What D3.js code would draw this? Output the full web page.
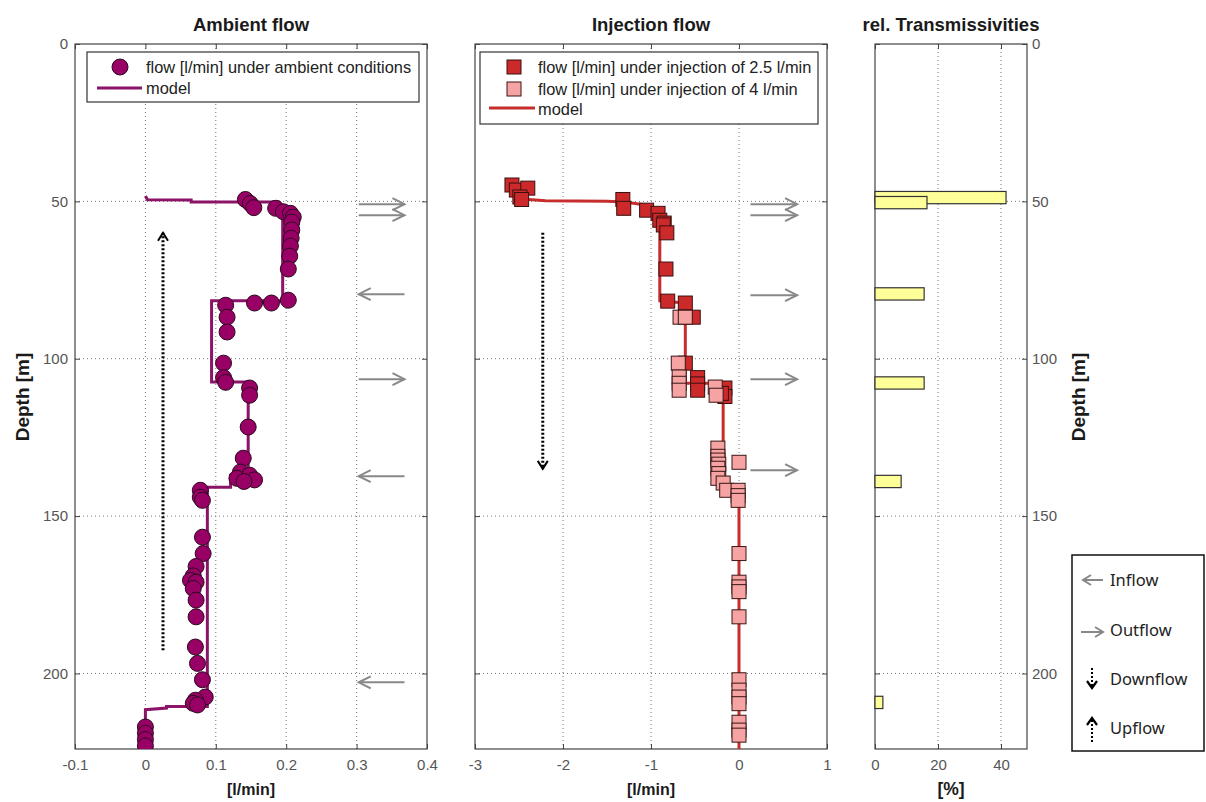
<!DOCTYPE html>
<html><head><meta charset="utf-8">
<script src="https://cdn.jsdelivr.net/npm/d3@7"></script>
<style>
body{margin:0;background:#fff;}
svg{display:block;font-family:"Liberation Sans",Arial,sans-serif;}
</style></head><body>
<svg id="chart" width="1206" height="802"></svg>
<script>
// [depth m, flow l/min]
const ambientPts = [[49.4,0.142],[50.7,0.149],[52.0,0.154],[52.2,0.185],[53.3,0.196],[53.8,0.206],[55.0,0.210],
  [56.6,0.208],[59.1,0.208],[61.7,0.207],[64.2,0.206],[67.4,0.205],[71.5,0.203],[81.4,0.203],[82.3,0.179],
  [82.3,0.155],[83.0,0.114],[86.8,0.116],[91.5,0.116],[101.4,0.111],[106.0,0.111],[107.5,0.114],[109.3,0.148],
  [111.6,0.148],[121.7,0.146],[131.6,0.139],[136.0,0.135],[137.0,0.148],[138.0,0.130],[138.5,0.155],[139.0,0.140],
  [141.8,0.078],[144.0,0.078],[145.0,0.081],[156.7,0.081],[161.9,0.082],[166.0,0.072],[169.0,0.068],[170.4,0.064],
  [171.0,0.072],[173.0,0.068],[176.7,0.072],[182.0,0.072],[191.6,0.071],[196.8,0.074],[202.0,0.081],[207.5,0.085],
  [208.5,0.071],[209.5,0.068],[210.0,0.074],[217,0],[219,0],[221,0],[223,0]];
const ambientModel = [[48.3,0],[49.5,0.003],[49.6,0.065],[50.2,0.065],[50.2,0.19],[51.8,0.195],[81.6,0.195],
  [81.6,0.094],[107.4,0.094],[107.4,0.146],[136.4,0.146],[137,0.121],[140.8,0.121],[140.8,0.088],[210.5,0.088],
  [210.5,0.03],[211,0.03],[211.5,0],[224,0]];
const inj25Pts = [[44.8,-2.58],[46.4,-2.53],[45.8,-2.40],[48.6,-2.49],[49.4,-2.47],[49.4,-1.32],[52.2,-1.31],
  [52.8,-1.05],[53.8,-0.92],[56.0,-0.90],[56.9,-0.85],[57.5,-0.86],[60.0,-0.82],[71.5,-0.83],[81.7,-0.81],
  [82.3,-0.61],[86.8,-0.52],[101.4,-0.61],[106.0,-0.47],[108.0,-0.47],[110.0,-0.47],[109.3,-0.16],[112.0,-0.16],[111.0,-0.2]];
const inj4Pts = [[86.8,-0.67],[86.8,-0.61],[101.4,-0.69],[105.8,-0.68],[107.8,-0.68],[110.0,-0.68],[109.0,-0.27],
  [111.6,-0.26],[128.4,-0.24],[131.0,-0.24],[132.2,-0.24],[133.5,-0.23],[134.8,-0.24],[136.5,-0.23],[138.0,-0.24],
  [132.9,0.0],[139.5,-0.18],[141.8,-0.14],[141.8,-0.01],[143.5,-0.01],[145.0,-0.01],[161.9,0],[171,0],[172.5,0],
  [174,0],[182,0],[202,0],[205.3,0],[207.5,0],[209.6,0],[215.5,0],[218,0],[219.6,0]];
const injModel = [[49.2,-2.5],[49.8,-2.2],[50.0,-1.5],[50.2,-1.3],[51.0,-1.1],[52.5,-0.95],[53.5,-0.9],[81.6,-0.9],
  [82.3,-0.61],[107.8,-0.61],[107.8,-0.18],[142.7,-0.18],[143.2,0],[224,0]];
const transDepth = [48.8, 50.4, 79.4, 107.7, 139, 209.2];
const transPct = [41.6, 16.5, 15.6, 15.6, 8.3, 2.5];

const depthTicks = [0, 50, 100, 150, 200];
const ambientTicks = [-0.1, 0, 0.1, 0.2, 0.3, 0.4];
const injTicks = [-3, -2, -1, 0, 1];
const transTicks = [0, 20, 40];

// side arrows [depth, direction]
const ambientArrows = [[50.9,"out"],[54.4,"out"],[79.5,"in"],[106.5,"out"],[137.3,"in"],[202.8,"in"]];
const injArrows = [[50.9,"out"],[54.4,"out"],[79.8,"out"],[106.5,"out"],[135.4,"out"]];

const svg = d3.select("#chart");
const y = d3.scaleLinear().domain([0, 224]).range([44, 749]);
const xA = d3.scaleLinear().domain([-0.1, 0.4]).range([75, 427]);
const xI = d3.scaleLinear().domain([-3, 1]).range([475, 827]);
const xT = d3.scaleLinear().domain([0, 48.25]).range([875, 1027]);

function styleAxis(sel) {
  sel.select(".domain").remove();
  sel.selectAll(".tick line").attr("stroke", "#444");
  sel.selectAll(".tick text").attr("fill", "#555").attr("font-size", 15)
    .attr("font-family", '"Liberation Sans", Arial, sans-serif');
}

function panel(x, xt, title, xlabel, labelSide, id) {
  const g = svg.append("g");
  const [x0, x1] = x.range(), [y0, y1] = y.range();
  g.append("defs").append("clipPath").attr("id", id)
    .append("rect").attr("x", x0).attr("y", y0).attr("width", x1 - x0).attr("height", y1 - y0);
  const grid = g.append("g").attr("stroke", "#777").attr("stroke-dasharray", "1,3");
  grid.selectAll(".gx").data(xt.filter(v => x(v) > x0 + 1 && x(v) < x1 - 1)).join("line")
    .attr("x1", d => x(d)).attr("x2", d => x(d)).attr("y1", y0).attr("y2", y1);
  grid.selectAll(".gy").data(depthTicks.filter(v => y(v) > y0 + 1)).join("line")
    .attr("y1", d => y(d)).attr("y2", d => y(d)).attr("x1", x0).attr("x2", x1);
  g.append("rect").attr("x", x0).attr("y", y0).attr("width", x1 - x0).attr("height", y1 - y0)
    .attr("fill", "none").attr("stroke", "#444").attr("stroke-width", 1.2);
  g.append("g").attr("transform", `translate(0,${y1})`)
    .call(d3.axisBottom(x).tickValues(xt).tickFormat(d => String(d)).tickSize(-5).tickPadding(10)).call(styleAxis);
  g.append("g").attr("transform", `translate(0,${y0})`)
    .call(d3.axisTop(x).tickValues(xt).tickFormat("").tickSize(-5)).call(styleAxis);
  g.append("g").attr("transform", `translate(${x0},0)`)
    .call(d3.axisLeft(y).tickValues(depthTicks).tickFormat(labelSide === "left" ? (d => String(d)) : "").tickSize(-5).tickPadding(7)).call(styleAxis);
  g.append("g").attr("transform", `translate(${x1},0)`)
    .call(d3.axisRight(y).tickValues(depthTicks).tickFormat(labelSide === "right" ? (d => String(d)) : "").tickSize(-5).tickPadding(5)).call(styleAxis);
  g.append("text").attr("x", (x0 + x1) / 2).attr("y", 31).attr("text-anchor", "middle")
    .attr("font-size", 18.5).attr("font-weight", "bold").attr("fill", "#1a1a1a").text(title);
  g.append("text").attr("x", (x0 + x1) / 2).attr("y", 795).attr("text-anchor", "middle")
    .attr("font-size", xlabel === "[%]" ? 17.5 : 16).attr("font-weight", "bold").attr("fill", "#1a1a1a").text(xlabel);
  return g;
}

function sideArrows(g, x, v0, v1, list) {
  list.forEach(([d, dir]) => {
    const yy = y(d), xa = x(v0), xb = x(v1);
    const tip = dir === "out" ? xb : xa, s = dir === "out" ? -1 : 1;
    g.append("line").attr("x1", xa).attr("x2", xb).attr("y1", yy).attr("y2", yy)
      .attr("stroke", "#888").attr("stroke-width", 2);
    g.append("path").attr("d", `M${tip + s * 12},${yy - 6}L${tip},${yy}L${tip + s * 12},${yy + 6}`)
      .attr("fill", "none").attr("stroke", "#888").attr("stroke-width", 2);
  });
}

function dottedArrow(g, xp, yFrom, yTo) {
  g.append("line").attr("x1", xp).attr("x2", xp).attr("y1", yFrom).attr("y2", yTo)
    .attr("stroke", "#000").attr("stroke-width", 3).attr("stroke-dasharray", "2,2");
  const s = yTo > yFrom ? -1 : 1;
  g.append("path").attr("d", `M${xp - 5},${yTo + s * 8}L${xp},${yTo}L${xp + 5},${yTo + s * 8}`)
    .attr("fill", "none").attr("stroke", "#000").attr("stroke-width", 2);
}

function legendBox(g, x0, y0, w, h) {
  g.append("rect").attr("x", x0).attr("y", y0).attr("width", w).attr("height", h)
    .attr("fill", "#fff").attr("stroke", "#333").attr("stroke-width", 1.2);
}

const line = x => d3.line().x(d => x(d[1])).y(d => y(d[0]));

// ---- Ambient flow ----
const gA = panel(xA, ambientTicks, "Ambient flow", "[l/min]", "left", "clipA");
const dA = gA.append("g").attr("clip-path", "url(#clipA)");
dA.append("path").datum(ambientModel).attr("d", line(xA))
  .attr("fill", "none").attr("stroke", "#8c1468").attr("stroke-width", 3);
dA.selectAll("circle").data(ambientPts).join("circle")
  .attr("cx", d => xA(d[1])).attr("cy", d => y(d[0])).attr("r", 8)
  .attr("fill", "#990066").attr("stroke", "#2a0a1e").attr("stroke-width", 1);
sideArrows(gA, xA, 0.303, 0.368, ambientArrows);
dottedArrow(gA, xA(0.025), y(192.6), y(60));
legendBox(gA, 87, 52, 332, 50);
gA.append("circle").attr("cx", 120).attr("cy", 67).attr("r", 8).attr("fill", "#990066").attr("stroke", "#2a0a1e");
gA.append("line").attr("x1", 97).attr("x2", 142).attr("y1", 88).attr("y2", 88).attr("stroke", "#8c1468").attr("stroke-width", 3);
gA.append("text").attr("x", 146).attr("y", 73).attr("font-size", 16.4).attr("fill", "#222").text("flow [l/min] under ambient conditions");
gA.append("text").attr("x", 146).attr("y", 94).attr("font-size", 16.4).attr("fill", "#222").text("model");

// ---- Injection flow ----
const gI = panel(xI, injTicks, "Injection flow", "[l/min]", "none", "clipI");
const dI = gI.append("g");
dI.append("path").datum(injModel).attr("d", line(xI))
  .attr("fill", "none").attr("stroke", "#c62d2d").attr("stroke-width", 3);
const sq = 14;
dI.selectAll(".s25").data(inj25Pts).join("rect")
  .attr("x", d => xI(d[1]) - sq / 2).attr("y", d => y(d[0]) - sq / 2).attr("width", sq).attr("height", sq)
  .attr("fill", "#cc2a2a").attr("stroke", "#3a1010").attr("stroke-width", 1);
dI.selectAll(".s4").data(inj4Pts).join("rect")
  .attr("x", d => xI(d[1]) - sq / 2).attr("y", d => y(d[0]) - sq / 2).attr("width", sq).attr("height", sq)
  .attr("fill", "#f5a3a3").attr("stroke", "#3a1515").attr("stroke-width", 1);
sideArrows(gI, xI, 0.13, 0.66, injArrows);
dottedArrow(gI, xI(-2.23), y(60), y(135));
legendBox(gI, 480, 52, 338, 72);
gI.append("rect").attr("x", 507).attr("y", 60).attr("width", 14).attr("height", 14).attr("fill", "#cc2a2a").attr("stroke", "#3a1010");
gI.append("rect").attr("x", 507).attr("y", 82).attr("width", 14).attr("height", 14).attr("fill", "#f5a3a3").attr("stroke", "#3a1515");
gI.append("line").attr("x1", 489).attr("x2", 535).attr("y1", 108).attr("y2", 108).attr("stroke", "#c62d2d").attr("stroke-width", 3);
[["flow [l/min] under injection of 2.5 l/min", 73], ["flow [l/min] under injection of 4 l/min", 95], ["model", 115]]
  .forEach(([t, yy]) => gI.append("text").attr("x", 538).attr("y", yy).attr("font-size", 16.4).attr("fill", "#222").text(t));

// ---- rel. Transmissivities ----
const gT = panel(xT, transTicks, "rel. Transmissivities", "[%]", "right", "clipT");
const barH = 3.9;
gT.selectAll(".bar").data(transDepth.map((d, i) => [d, transPct[i]])).join("rect")
  .attr("x", xT(0)).attr("y", d => y(d[0] - barH / 2)).attr("width", d => xT(d[1]) - xT(0))
  .attr("height", y(barH) - y(0)).attr("fill", "#ffff99").attr("stroke", "#333").attr("stroke-width", 1.2);
gT.append("text").attr("transform", "translate(1085,397) rotate(-90)").attr("text-anchor", "middle")
  .attr("font-size", 19).attr("font-weight", "bold").attr("fill", "#1a1a1a").text("Depth [m]");
svg.append("text").attr("transform", "translate(29,397) rotate(-90)").attr("text-anchor", "middle")
  .attr("font-size", 19).attr("font-weight", "bold").attr("fill", "#1a1a1a").text("Depth [m]");

// ---- key box ----
const gK = svg.append("g");
gK.append("rect").attr("x", 1072).attr("y", 555).attr("width", 132).attr("height", 196)
  .attr("fill", "#fff").attr("stroke", "#111").attr("stroke-width", 1.5);
const keyFont = '"Noto Sans", "Open Sans", sans-serif';
const kArrow = (x1, x2, yy, dir) => {
  gK.append("line").attr("x1", x1).attr("x2", x2).attr("y1", yy).attr("y2", yy).attr("stroke", "#888").attr("stroke-width", 2);
  const tip = dir === "out" ? x2 : x1, s = dir === "out" ? -1 : 1;
  gK.append("path").attr("d", `M${tip + s * 8},${yy - 5}L${tip},${yy}L${tip + s * 8},${yy + 5}`)
    .attr("fill", "none").attr("stroke", "#888").attr("stroke-width", 2);
};
kArrow(1083, 1103, 580, "in");
kArrow(1081, 1103, 632, "out");
const kDot = (yFrom, yTo) => {
  gK.append("line").attr("x1", 1092).attr("x2", 1092).attr("y1", yFrom).attr("y2", yTo)
    .attr("stroke", "#000").attr("stroke-width", 2).attr("stroke-dasharray", "2,2");
  const s = yTo > yFrom ? -1 : 1;
  gK.append("path").attr("d", `M1087,${yTo + s * 7}L1092,${yTo}L1097,${yTo + s * 7}`)
    .attr("fill", "none").attr("stroke", "#000").attr("stroke-width", 2.2);
};
kDot(668, 688);
kDot(742, 718);
[["Inflow", 586], ["Outflow", 636], ["Downflow", 685], ["Upflow", 734]].forEach(([t, yy]) =>
  gK.append("text").attr("x", 1110).attr("y", yy).attr("font-family", keyFont).attr("font-size", 16.5)
    .attr("fill", "#222").text(t));
</script>
</body></html>
